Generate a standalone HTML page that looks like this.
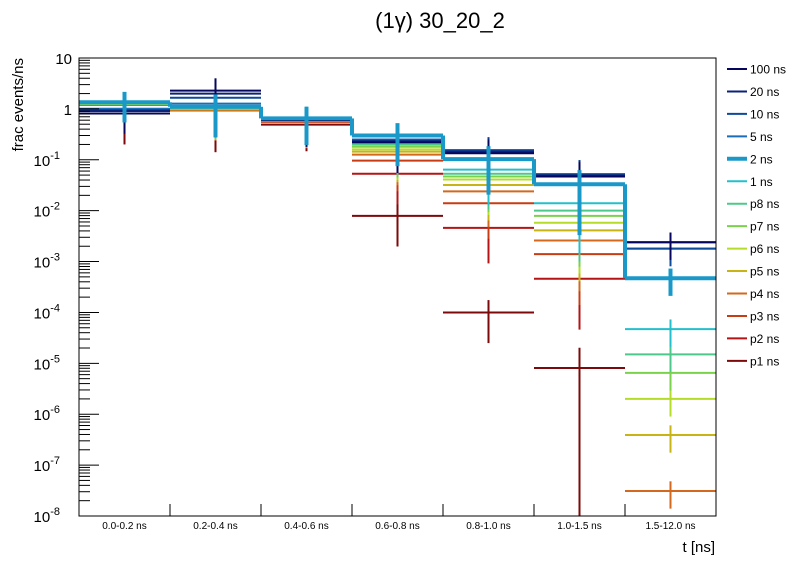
<!DOCTYPE html>
<html><head><meta charset="utf-8"><style>
body{margin:0;background:#fff}
svg{font-family:"Liberation Sans",sans-serif;display:block}
</style></head><body>
<svg id="chart" width="796" height="572" viewBox="0 0 796 572" xmlns="http://www.w3.org/2000/svg">
<rect width="796" height="572" fill="#fff"/>
<text x="440" y="28" font-size="22" text-anchor="middle">(1γ) 30_20_2</text>
<text transform="translate(23,58) rotate(-90)" font-size="15" text-anchor="end">frac events/ns</text>
<text x="715" y="552" font-size="15" text-anchor="end">t [ns]</text>
<g id="plot"></g>
<g id="axes"></g>
<g id="legend"></g>
</svg>
<script>
const categories=["0.0-0.2 ns","0.2-0.4 ns","0.4-0.6 ns","0.6-0.8 ns","0.8-1.0 ns","1.0-1.5 ns","1.5-12.0 ns"];
const seriesNames=["100 ns","20 ns","10 ns","5 ns","2 ns","1 ns","p8 ns","p7 ns","p6 ns","p5 ns","p4 ns","p3 ns","p2 ns","p1 ns"];
const seriesColors=["#06065e","#0c2178","#0e4a9c","#1a6db8","#1a99c9","#22bfcc","#4cc98a","#7ad24c","#b4dc28","#c8b414","#d2691e","#c83c14","#b41414","#7d0a0a"];
const s100=[0.81,2.28,0.6,0.22,0.134,0.047,0.0024];
const s20=[0.91,2.0,0.6,0.23,0.145,0.049,0.0024];
const s10=[0.95,1.66,0.62,0.24,0.155,0.052,0.0018];
const s5=[1.0,1.27,0.63,0.25,0.15,0.052,0.0018];
const s2=[1.35,1.1,0.65,0.30,0.103,0.033,0.00047];
const s1=[1.3,1.1,0.65,0.25,0.064,0.014,0.000047];
const sp8=[1.28,1.05,0.62,0.2,0.053,0.010,0.000015];
const sp7=[1.26,1.0,0.6,0.18,0.047,0.0079,0.0000065];
const sp6=[1.25,1.0,0.59,0.16,0.041,0.0058,0.000002];
const sp5=[1.24,0.98,0.58,0.145,0.032,0.0041,0.00000039];
const sp4=[1.23,0.96,0.57,0.126,0.024,0.0026,0.000000031];
const sp3=[1.23,0.95,0.56,0.096,0.014,0.0014,0];
const sp2=[1.2,0.94,0.56,0.053,0.0046,0.00046,0];
const sp1=[1.0,0.94,0.49,0.0079,0.0001,0.0000081,0];
const seriesValues=[s100,s20,s10,s5,s2,s1,sp8,sp7,sp6,sp5,sp4,sp3,sp2,sp1];
const relErr=[0.6,0.75,0.7,0.75,0.8,0.9,0.55];
const p1RelErr=[0.8,0.85,0.7,0.75,0.75,1.5,0];
const yTickExps=[1,0,-1,-2,-3,-4,-5,-6,-7,-8];

const X0=79,X1=716,Y0=58,Y1=516,YMAX=1,YMIN=-8;
const NS="http://www.w3.org/2000/svg";
function xEdge(i){return X0+(X1-X0)*i/categories.length;}
function yPos(v){let l=v>0?Math.log10(v):YMIN-1;l=Math.max(YMIN,Math.min(YMAX,l));return Y0+(YMAX-l)/(YMAX-YMIN)*(Y1-Y0);}
function mk(tag,attrs,parent){const e=document.createElementNS(NS,tag);for(const k in attrs)e.setAttribute(k,attrs[k]);parent.appendChild(e);return e;}
const plot=document.getElementById('plot'),axes=document.getElementById('axes'),legend=document.getElementById('legend');

function drawSeries(si){
  const vals=seriesValues[si],col=seriesColors[si],w=si===4?4:2;
  const errs=si===13?p1RelErr:relErr;
  const g=mk('g',{},plot);
  
  
  for(let b=0;b<categories.length;b++){
    const v=vals[b]; if(!(v>0)) continue;
    const y=yPos(v),xa=xEdge(b),xb=xEdge(b+1),xc=(xa+xb)/2;
    const h=mk('line',{x1:xa,x2:xb,y1:y,y2:y,stroke:col,'stroke-width':w},g);
    
    
    const e=v*errs[b];
    const eb=mk('line',{x1:xc,x2:xc,y1:yPos(v+e),y2:yPos(v-e),stroke:col,'stroke-width':w},g);
    
    
    if(si===4&&b<categories.length-1&&vals[b+1]>0){
      const c=mk('line',{x1:xb,x2:xb,y1:y,y2:yPos(vals[b+1]),stroke:col,'stroke-width':w},g);
      
      
    }
  }
}
for(let si=seriesNames.length-1;si>=0;si--){if(si!==4)drawSeries(si);}
drawSeries(4);

const fr=mk('rect',{x:X0,y:Y0,width:X1-X0,height:Y1-Y0,fill:'none',stroke:'#000','stroke-width':1},axes);


for(let i=0;i<yTickExps.length;i++){
  const ex=yTickExps[i],y=yPos(Math.pow(10,ex));
  const t=mk('line',{x1:X0,x2:X0+20,y1:y,y2:y,stroke:'#000'},axes);
  
  
  const tx=mk('text',{x:72,y:y+6,'font-size':15,'text-anchor':'end'},axes);
  
  
  if(ex===1)tx.textContent='10';else if(ex===0)tx.textContent='1';
  else{tx.setAttribute('x',60);tx.textContent='10';const s=mk('tspan',{dy:-7,'font-size':11},tx);s.textContent=String(ex);}
  if(ex>YMIN){for(let m=2;m<=9;m++){const ym=yPos(m*Math.pow(10,ex-1));
    const mt=mk('line',{x1:X0,x2:X0+11,y1:ym,y2:ym,stroke:'#000'},axes);
    
    }}
}
for(let b=0;b<=categories.length;b++){
  const x=xEdge(b);
  const t=mk('line',{x1:x,x2:x,y1:Y1,y2:Y1-12,stroke:'#000'},axes);
  
  
  if(b<categories.length){
    const l=mk('text',{x:(x+xEdge(b+1))/2,y:529,'font-size':10,'text-anchor':'middle'},axes);
    
    
    l.textContent=categories[b];
  }
}
for(let i=0;i<seriesNames.length;i++){
  const y=69+i*22.45;
  const g=mk('g',{},legend);
  
  
  mk('line',{x1:727,x2:747,y1:y,y2:y,stroke:seriesColors[i],'stroke-width':i===4?4:2},g);
  const t=mk('text',{x:750,y:y+4.5,'font-size':12},g);
  t.textContent=seriesNames[i];
}
</script>
</body></html>
